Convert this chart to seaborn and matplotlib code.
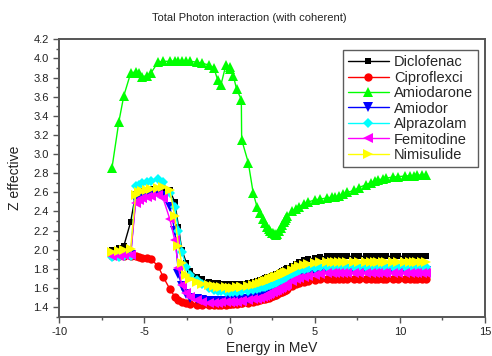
import numpy as np
import pandas as pd
import seaborn as sns
import matplotlib
matplotlib.use("Agg")
import matplotlib.pyplot as plt
from matplotlib.ticker import MultipleLocator

sns.set_style("ticks")
plt.rcParams['font.family'] = ['Liberation Sans', 'DejaVu Sans']
plt.rcParams['axes.unicode_minus'] = False

# x values (ln of energy grid)
energy = [-6.91, -6.50, -6.21, -5.81, -5.52, -5.30, -5.12, -4.83, -4.61, -4.20,
          -3.91, -3.51, -3.22, -3.00, -2.81, -2.53, -2.30, -1.90, -1.61, -1.20,
          -0.92, -0.69, -0.51, -0.22, 0.00, 0.02, 0.22, 0.41, 0.69, 0.71,
          1.10, 1.39, 1.61, 1.79, 1.95, 2.08, 2.20, 2.30, 2.40, 2.48,
          2.56, 2.64, 2.71, 2.77, 2.89, 3.00, 3.09, 3.18, 3.26, 3.33,
          3.40, 3.69, 3.91, 4.09, 4.38, 4.61, 5.01, 5.30, 5.70, 5.99,
          6.21, 6.40, 6.68, 6.91, 7.31, 7.60, 8.01, 8.29, 8.52, 8.70,
          8.99, 9.21, 9.62, 9.90, 10.31, 10.60, 10.82, 11.00, 11.29, 11.51]

diclofenac = [2.00, 2.02, 2.04, 2.29, 2.58, 2.60, 2.61, 2.62, 2.63, 2.64,
              2.65, 2.62, 2.50, 2.24, 2.00, 1.86, 1.78, 1.72, 1.69, 1.665,
              1.655, 1.65, 1.645, 1.64, 1.64, 1.64, 1.64, 1.64, 1.645, 1.645,
              1.65, 1.66, 1.67, 1.68, 1.69, 1.70, 1.71, 1.715, 1.72, 1.73,
              1.735, 1.74, 1.745, 1.75, 1.76, 1.77, 1.78, 1.785, 1.79, 1.80,
              1.805, 1.83, 1.85, 1.87, 1.89, 1.90, 1.915, 1.925, 1.93, 1.93,
              1.93, 1.93, 1.93, 1.93, 1.93, 1.93, 1.93, 1.93, 1.93, 1.93,
              1.93, 1.93, 1.93, 1.93, 1.93, 1.93, 1.93, 1.93, 1.93, 1.93]

ciproflexci = [1.93, 1.93, 1.93, 1.935, 1.93, 1.92, 1.915, 1.91, 1.90, 1.83,
               1.72, 1.59, 1.51, 1.47, 1.45, 1.44, 1.43, 1.425, 1.42, 1.42,
               1.42, 1.42, 1.425, 1.425, 1.43, 1.43, 1.43, 1.435, 1.44, 1.44,
               1.445, 1.455, 1.465, 1.47, 1.48, 1.49, 1.495, 1.50, 1.51, 1.515,
               1.52, 1.525, 1.53, 1.535, 1.545, 1.555, 1.56, 1.57, 1.575, 1.58,
               1.59, 1.62, 1.64, 1.65, 1.665, 1.675, 1.685, 1.69, 1.69, 1.69,
               1.69, 1.69, 1.69, 1.69, 1.69, 1.69, 1.69, 1.69, 1.69, 1.69,
               1.69, 1.69, 1.69, 1.69, 1.69, 1.69, 1.69, 1.69, 1.69, 1.69]

amiodarone = [2.85, 3.34, 3.61, 3.845, 3.86, 3.85, 3.81, 3.82, 3.85, 3.96,
              3.97, 3.97, 3.975, 3.975, 3.975, 3.97, 3.97, 3.96, 3.95, 3.93,
              3.90, 3.77, 3.72, 3.93, 3.91, 3.89, 3.82, 3.68, 3.57, 3.15,
              2.91, 2.59, 2.45, 2.38, 2.32, 2.28, 2.24, 2.22, 2.20, 2.18,
              2.17, 2.16, 2.155, 2.16, 2.20, 2.23, 2.26, 2.29, 2.31, 2.33,
              2.35, 2.40, 2.43, 2.45, 2.48, 2.50, 2.52, 2.53, 2.54, 2.55,
              2.555, 2.56, 2.58, 2.60, 2.62, 2.65, 2.68, 2.70, 2.72, 2.73,
              2.74, 2.75, 2.76, 2.765, 2.77, 2.775, 2.775, 2.78, 2.78, 2.785]

amiodor = [1.94, 1.945, 1.95, 1.95, 2.52, 2.55, 2.56, 2.57, 2.58, 2.59,
           2.56, 2.45, 2.20, 1.75, 1.62, 1.54, 1.50, 1.48, 1.47, 1.465,
           1.465, 1.465, 1.465, 1.465, 1.47, 1.47, 1.47, 1.475, 1.48, 1.48,
           1.49, 1.50, 1.515, 1.53, 1.545, 1.555, 1.565, 1.575, 1.585, 1.59,
           1.60, 1.605, 1.61, 1.615, 1.625, 1.635, 1.645, 1.65, 1.66, 1.665,
           1.67, 1.70, 1.72, 1.735, 1.75, 1.76, 1.77, 1.775, 1.78, 1.78,
           1.78, 1.78, 1.78, 1.78, 1.78, 1.78, 1.78, 1.78, 1.78, 1.78,
           1.78, 1.78, 1.78, 1.78, 1.78, 1.78, 1.78, 1.78, 1.78, 1.78]

alprazolam = [1.92, 1.92, 1.93, 1.93, 2.67, 2.68, 2.70, 2.71, 2.72, 2.74,
              2.71, 2.59, 2.45, 2.20, 1.98, 1.82, 1.74, 1.68, 1.64, 1.60,
              1.58, 1.57, 1.565, 1.56, 1.56, 1.56, 1.56, 1.56, 1.565, 1.565,
              1.57, 1.58, 1.59, 1.60, 1.61, 1.615, 1.62, 1.63, 1.635, 1.64,
              1.645, 1.65, 1.655, 1.66, 1.67, 1.68, 1.685, 1.69, 1.70, 1.705,
              1.71, 1.74, 1.76, 1.775, 1.79, 1.80, 1.81, 1.815, 1.82, 1.824,
              1.824, 1.824, 1.824, 1.824, 1.824, 1.824, 1.824, 1.824, 1.824, 1.824,
              1.824, 1.824, 1.824, 1.824, 1.824, 1.824, 1.824, 1.824, 1.824, 1.824]

femitodine = [1.93, 1.935, 1.94, 1.94, 2.49, 2.52, 2.54, 2.55, 2.56, 2.57,
              2.54, 2.32, 2.10, 1.81, 1.63, 1.55, 1.51, 1.47, 1.45, 1.445,
              1.445, 1.445, 1.45, 1.45, 1.45, 1.45, 1.455, 1.455, 1.46, 1.46,
              1.47, 1.48, 1.49, 1.50, 1.51, 1.52, 1.53, 1.54, 1.55, 1.555,
              1.56, 1.57, 1.575, 1.58, 1.59, 1.60, 1.61, 1.62, 1.625, 1.63,
              1.64, 1.67, 1.69, 1.705, 1.72, 1.73, 1.74, 1.75, 1.755, 1.755,
              1.755, 1.755, 1.755, 1.755, 1.755, 1.755, 1.755, 1.755, 1.755, 1.755,
              1.755, 1.755, 1.755, 1.755, 1.755, 1.755, 1.755, 1.755, 1.755, 1.755]

nimisulide = [1.98, 1.99, 2.00, 2.01, 2.57, 2.60, 2.61, 2.62, 2.63, 2.65,
              2.66, 2.62, 2.35, 2.04, 1.86, 1.74, 1.69, 1.66, 1.64, 1.63,
              1.62, 1.615, 1.61, 1.61, 1.605, 1.605, 1.605, 1.61, 1.61, 1.61,
              1.62, 1.63, 1.64, 1.65, 1.66, 1.67, 1.675, 1.68, 1.69, 1.695,
              1.70, 1.71, 1.715, 1.72, 1.73, 1.74, 1.745, 1.75, 1.755, 1.76,
              1.765, 1.79, 1.81, 1.825, 1.845, 1.855, 1.865, 1.87, 1.875, 1.877,
              1.877, 1.877, 1.877, 1.877, 1.877, 1.877, 1.877, 1.877, 1.877, 1.877,
              1.877, 1.877, 1.877, 1.877, 1.877, 1.877, 1.877, 1.877, 1.877, 1.877]

names = ["Diclofenac", "Ciproflexci", "Amiodarone", "Amiodor",
         "Alprazolam", "Femitodine", "Nimisulide"]
series = [diclofenac, ciproflexci, amiodarone, amiodor,
          alprazolam, femitodine, nimisulide]
colors = ["#000000", "#FF0000", "#00FF00", "#0000FF", "#00FFFF", "#FF00FF", "#FFFF00"]
markers = ["s", "o", "^", "v", "D", "<", ">"]
msizes = [5, 6, 6.5, 6.5, 5, 6.5, 6.5]

frames = []
for n, s in zip(names, series):
    frames.append(pd.DataFrame({"Energy": energy, "Z": s, "Drug": n}))
df = pd.concat(frames, ignore_index=True)

fig = plt.figure(figsize=(4.92, 3.56), dpi=100)
ax = fig.add_axes([0.1205, 0.1104, 0.8653, 0.7792])

for n, c, m, ms in zip(names, colors, markers, msizes):
    sub = df[df["Drug"] == n]
    sns.lineplot(data=sub, x="Energy", y="Z", ax=ax, color=c, marker=m,
                 markersize=ms, markeredgewidth=0, linewidth=1.0,
                 estimator=None, sort=False, label=n)

ax.set_xlim(-10, 15)
ax.set_ylim(1.3, 4.2)
ax.xaxis.set_major_locator(MultipleLocator(5))
ax.xaxis.set_minor_locator(MultipleLocator(2.5))
ax.yaxis.set_minor_locator(MultipleLocator(0.1))
yt = np.arange(1.4, 4.21, 0.2)
ax.set_yticks(yt)
ax.set_yticklabels([f"{v:.1f}" for v in yt])

spine_col = "#555555"
for sp in ax.spines.values():
    sp.set_color(spine_col)
    sp.set_linewidth(1.4)
    sp.set_visible(True)
ax.tick_params(axis="both", which="major", direction="out", length=4,
               width=1.0, color=spine_col, labelsize=8, labelcolor="#222222",
               top=False, right=False)
ax.tick_params(axis="both", which="minor", direction="out", length=2.5,
               width=1.0, color=spine_col, top=False, right=False)

ax.set_xlabel("Energy in MeV", fontsize=10, labelpad=3, color="#222222")
ax.set_ylabel("Z effective", fontsize=10, labelpad=8, color="#222222")
fig.text(0.506, 0.95, "Total Photon interaction (with coherent)",
         ha="center", va="center", fontsize=8, color="#222222")

leg = ax.legend(loc="upper right", bbox_to_anchor=(0.9835, 0.961),
                borderaxespad=0, fontsize=10.5, frameon=True, fancybox=False,
                handlelength=2.8, labelspacing=0.1, borderpad=0.35,
                handletextpad=0.35)
leg.get_frame().set_edgecolor("#333333")
leg.get_frame().set_linewidth(1.0)

fig.savefig("out.png", dpi=100)
